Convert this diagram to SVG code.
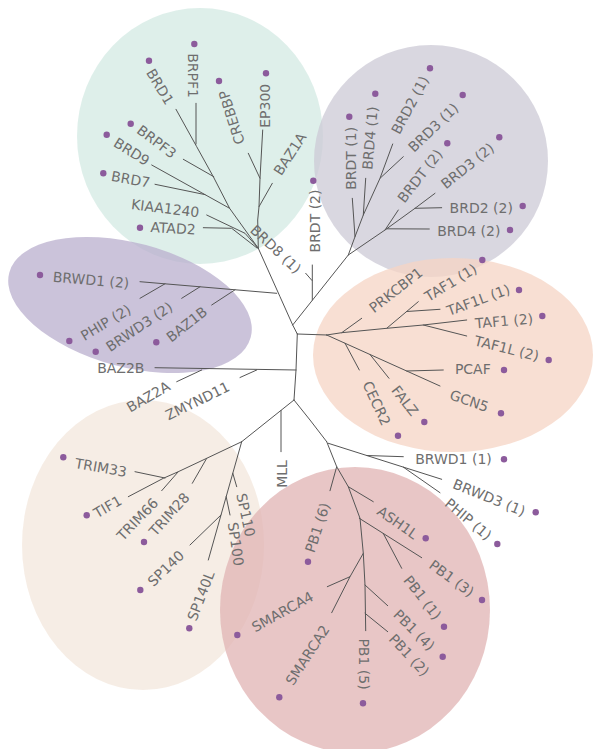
<svg xmlns="http://www.w3.org/2000/svg" width="595" height="749" viewBox="0 0 595 749">
<style>
.bg{stroke:none;opacity:0.75}
.ln{fill:none;stroke:#555;stroke-width:1;stroke-linejoin:round;stroke-linecap:round}
.dot{fill:#8c5b9c}
text{font-family:"DejaVu Sans","Liberation Sans",sans-serif;font-size:14px;fill:#6e6e6e;text-anchor:middle;dominant-baseline:central}
</style>
<rect width="595" height="749" fill="#ffffff"/>
<g id="backgrounds">
<ellipse class="bg" cx="200" cy="136" rx="123" ry="128" fill="#d3eae3"/>
<ellipse class="bg" cx="130" cy="305" rx="125" ry="62" transform="rotate(15 130 305)" fill="#baafce"/>
<ellipse class="bg" cx="431" cy="161" rx="117" ry="116" fill="#ccc9d6"/>
<ellipse class="bg" cx="453" cy="355" rx="140" ry="97" fill="#f6d4c4"/>
<ellipse class="bg" cx="143" cy="545" rx="121" ry="145" fill="#f3e7dc"/>
<ellipse class="bg" cx="355" cy="610" rx="135" ry="143" fill="#e0b3b3"/>
</g>
<g id="connectors" class="ln">
<polyline points="297.3,334 292.7,325 280,296.7 258.3,248.3"/>
<polyline points="292.7,325 348.3,255 385,230 415,208.3 435,193.3"/>
<line x1="312.3" y1="300" x2="312.3" y2="265"/>
<line x1="312" y1="280.5" x2="305.7" y2="273.3"/>
<line x1="297.3" y1="334" x2="326.7" y2="335"/>
<polyline points="297.3,334 296,370 294,400"/>
<line x1="296" y1="370" x2="155" y2="367.7"/>
<line x1="201.7" y1="370" x2="176.7" y2="381.7"/>
<line x1="256.7" y1="370" x2="240" y2="377.5"/>
<line x1="294" y1="400" x2="241.7" y2="441.7"/>
<line x1="281" y1="410.4" x2="281" y2="451.7"/>
<polyline points="294,400 310,420 326.7,441.7"/>
<!-- BRWD -->
<line x1="276.7" y1="293.3" x2="140" y2="281.7"/>
<line x1="140" y1="298.3" x2="165" y2="283.8"/>
<line x1="181.7" y1="298.3" x2="200" y2="286.8"/>
<line x1="211.7" y1="305" x2="235" y2="289.8"/>
<!-- teal -->
<polyline points="258.3,248.3 229.6,208.3 213.3,176.7 196.7,146.7 176,109.3"/>
<line x1="196" y1="103.3" x2="196" y2="144"/>
<line x1="183.3" y1="159.3" x2="213.8" y2="176.7"/>
<line x1="151.7" y1="165" x2="229.6" y2="208.3"/>
<line x1="155" y1="184.3" x2="205" y2="194.6"/>
<polyline points="206.7,215 245,233.3 258.3,248.3"/>
<polyline points="203.3,227.7 231.7,228.3 257,248"/>
<polyline points="262.7,130 260,178.3 259,206.7 257.7,220 258.3,248.3"/>
<line x1="248.3" y1="153.3" x2="260" y2="178.3"/>
<line x1="272.3" y1="183.3" x2="259" y2="206.7"/>
<!-- BET -->
<polyline points="348.3,255 355,236.7 363.3,215 380,178.3 392.7,144"/>
<line x1="352.3" y1="198.3" x2="355" y2="236.7"/>
<line x1="365.7" y1="178.3" x2="363.3" y2="215"/>
<line x1="403.3" y1="156.7" x2="380" y2="178.3"/>
<line x1="398.3" y1="210" x2="385" y2="230"/>
<line x1="441.7" y1="207.7" x2="415" y2="208.3"/>
<line x1="429.3" y1="229" x2="386.7" y2="228.8"/>
<!-- TAF -->
<polyline points="326.7,335 341.7,332.7 386.7,328.3 423.3,325 466.7,320"/>
<line x1="423.3" y1="325" x2="466.7" y2="336"/>
<line x1="341.7" y1="332.7" x2="361.7" y2="318.3"/>
<line x1="386.7" y1="328.3" x2="418.3" y2="301.7"/>
<line x1="406.7" y1="311.5" x2="440" y2="309.3"/>
<line x1="326.7" y1="335" x2="440" y2="386"/>
<line x1="406.7" y1="371" x2="443.3" y2="370"/>
<line x1="345" y1="343.2" x2="359.3" y2="370"/>
<line x1="370" y1="354.5" x2="389" y2="378.3"/>
<!-- TRIM / SP -->
<polyline points="241.7,441.7 206.7,458.3 178.3,471.7 163.3,478.3 128.3,496.7"/>
<line x1="135" y1="471.7" x2="165" y2="478"/>
<line x1="161.7" y1="490.7" x2="178.3" y2="471.7"/>
<line x1="192.3" y1="483.3" x2="206.7" y2="458.3"/>
<line x1="241.7" y1="441.7" x2="208.3" y2="560"/>
<line x1="236.7" y1="486.7" x2="232.8" y2="473.3"/>
<line x1="230" y1="515" x2="226.2" y2="496.7"/>
<line x1="190" y1="545" x2="221" y2="515"/>
<!-- PB1 -->
<polyline points="326.7,441.7 336.7,466.7 348.3,486.7 360,518.3 363.3,553.3 365,585 365.7,630.7"/>
<line x1="328.3" y1="443.3" x2="441.7" y2="479.3"/>
<line x1="366.7" y1="455.5" x2="403.3" y2="456.7"/>
<line x1="403.3" y1="467.1" x2="440" y2="492.7"/>
<line x1="330" y1="490.7" x2="336.7" y2="466.7"/>
<line x1="373.3" y1="501.7" x2="348.3" y2="486.7"/>
<line x1="359.3" y1="518.3" x2="421.7" y2="557.7"/>
<line x1="383.3" y1="533.5" x2="401.7" y2="568.3"/>
<polyline points="363.3,553.3 350,576.7 327.3,586.7"/>
<line x1="350" y1="576.7" x2="331.7" y2="612.7"/>
<line x1="365" y1="585" x2="387.7" y2="605.7"/>
<line x1="365" y1="613.3" x2="387.7" y2="631.7"/>
</g>
<g id="clade-teal">
<g id="n-BRD1"><circle class="dot" cx="149" cy="60.7" r="3.2"/><text transform="translate(160,86.7) rotate(59)">BRD1</text></g>
<g id="n-BRPF1"><circle class="dot" cx="194.3" cy="44" r="3.2"/><text transform="translate(193.3,75.5) rotate(90)">BRPF1</text></g>
<g id="n-BRPF3"><circle class="dot" cx="130.7" cy="123.7" r="3.2"/><text transform="translate(156.7,141.7) rotate(37)">BRPF3</text></g>
<g id="n-BRD9"><circle class="dot" cx="106.7" cy="134.7" r="3.2"/><text transform="translate(131.7,151.7) rotate(32)">BRD9</text></g>
<g id="n-BRD7"><circle class="dot" cx="103.3" cy="173.3" r="3.2"/><text transform="translate(130.7,179.3) rotate(10)">BRD7</text></g>
<g id="n-KIAA1240"><text transform="translate(165.3,208.3) rotate(7)">KIAA1240</text></g>
<g id="n-ATAD2"><circle class="dot" cx="140" cy="227.7" r="3.2"/><text transform="translate(173,228.3) rotate(3)">ATAD2</text></g>
<g id="n-CREBBP"><circle class="dot" cx="219" cy="81" r="3.2"/><text transform="translate(231.7,117.5) rotate(-108)">CREBBP</text></g>
<g id="n-EP300"><circle class="dot" cx="266" cy="73.3" r="3.2"/><text transform="translate(265,105.8) rotate(-90)">EP300</text></g>
<g id="n-BAZ1A"><text transform="translate(290,154) rotate(-57)">BAZ1A</text></g>
<g id="n-BRD8-1"><text transform="translate(275.8,249.2) rotate(43)">BRD8 (1)</text></g>
<g id="n-BRDT-2a"><circle class="dot" cx="313.3" cy="180.7" r="3.2"/><text transform="translate(315,221) rotate(-90)">BRDT (2)</text></g>
</g>
<g id="clade-bet">
<g id="n-BRDT-1"><circle class="dot" cx="349.3" cy="116.7" r="3.2"/><text transform="translate(350.7,158.3) rotate(-90)">BRDT (1)</text></g>
<g id="n-BRD4-1"><circle class="dot" cx="375.3" cy="93.7" r="3.2"/><text transform="translate(370,138) rotate(-85)">BRD4 (1)</text></g>
<g id="n-BRD2-1"><circle class="dot" cx="430" cy="68.3" r="3.2"/><text transform="translate(410,105) rotate(-62)">BRD2 (1)</text></g>
<g id="n-BRD3-1"><circle class="dot" cx="462.7" cy="95" r="3.2"/><text transform="translate(433.3,127.5) rotate(-44)">BRD3 (1)</text></g>
<g id="n-BRDT-2b"><circle class="dot" cx="447.3" cy="143.3" r="3.2"/><text transform="translate(420,175.8) rotate(-52)">BRDT (2)</text></g>
<g id="n-BRD3-2"><circle class="dot" cx="499.3" cy="137.3" r="3.2"/><text transform="translate(467.5,165.8) rotate(-39)">BRD3 (2)</text></g>
<g id="n-BRD2-2"><circle class="dot" cx="522.7" cy="206" r="3.2"/><text transform="translate(481.2,207.5)">BRD2 (2)</text></g>
<g id="n-BRD4-2"><circle class="dot" cx="510" cy="230" r="3.2"/><text transform="translate(468.8,230.5)">BRD4 (2)</text></g>
</g>
<g id="clade-taf">
<g id="n-PRKCBP1"><text transform="translate(395.8,290) rotate(-38)">PRKCBP1</text></g>
<g id="n-TAF1-1"><circle class="dot" cx="482.3" cy="260" r="3.2"/><text transform="translate(450.8,282.5) rotate(-31.5)">TAF1 (1)</text></g>
<g id="n-TAF1L-1"><circle class="dot" cx="519" cy="290" r="3.2"/><text transform="translate(478.3,300) rotate(-20)">TAF1L (1)</text></g>
<g id="n-TAF1-2"><circle class="dot" cx="542.3" cy="316" r="3.2"/><text transform="translate(504,321) rotate(-5)">TAF1 (2)</text></g>
<g id="n-TAF1L-2"><circle class="dot" cx="548.7" cy="360" r="3.2"/><text transform="translate(506.7,348.3) rotate(14)">TAF1L (2)</text></g>
<g id="n-PCAF"><circle class="dot" cx="504" cy="370" r="3.2"/><text transform="translate(472.8,369)">PCAF</text></g>
<g id="n-GCN5"><circle class="dot" cx="501" cy="413.3" r="3.2"/><text transform="translate(469.2,400.8) rotate(19)">GCN5</text></g>
<g id="n-FALZ"><circle class="dot" cx="424.3" cy="422" r="3.2"/><text transform="translate(405,400.8) rotate(52)">FALZ</text></g>
<g id="n-CECR2"><circle class="dot" cx="398" cy="435.7" r="3.2"/><text transform="translate(376.7,403.3) rotate(65)">CECR2</text></g>
</g>
<g id="clade-brwd">
<g id="n-BRWD1-2"><circle class="dot" cx="40" cy="275" r="3.2"/><text transform="translate(91,280) rotate(5)">BRWD1 (2)</text></g>
<g id="n-PHIP-2"><circle class="dot" cx="69.3" cy="341" r="3.2"/><text transform="translate(105.8,322.5) rotate(-31)">PHIP (2)</text></g>
<g id="n-BRWD3-2"><circle class="dot" cx="95.7" cy="351.7" r="3.2"/><text transform="translate(139.2,326.7) rotate(-34)">BRWD3 (2)</text></g>
<g id="n-BAZ1B"><circle class="dot" cx="156.3" cy="342.3" r="3.2"/><text transform="translate(186.7,324.2) rotate(-38)">BAZ1B</text></g>
<g id="n-BAZ2B"><text transform="translate(120.8,368)">BAZ2B</text></g>
<g id="n-BAZ2A"><text transform="translate(148.3,396.7) rotate(-30)">BAZ2A</text></g>
<g id="n-ZMYND11"><text transform="translate(197.5,400.8) rotate(-26)">ZMYND11</text></g>
</g>
<g id="clade-trim">
<g id="n-TRIM33"><circle class="dot" cx="63.3" cy="457.3" r="3.2"/><text transform="translate(100.8,467.5) rotate(10)">TRIM33</text></g>
<g id="n-TIF1"><circle class="dot" cx="86.7" cy="515.3" r="3.2"/><text transform="translate(107.5,506.7) rotate(-30)">TIF1</text></g>
<g id="n-TRIM66"><text transform="translate(137.5,519.2) rotate(-46)">TRIM66</text></g>
<g id="n-TRIM28"><circle class="dot" cx="144" cy="542" r="3.2"/><text transform="translate(169.2,514.2) rotate(-48)">TRIM28</text></g>
<g id="n-SP140"><circle class="dot" cx="140.3" cy="590" r="3.2"/><text transform="translate(165.8,568.3) rotate(-44)">SP140</text></g>
<g id="n-SP140L"><circle class="dot" cx="189.3" cy="628.3" r="3.2"/><text transform="translate(200.8,595.8) rotate(-69)">SP140L</text></g>
<g id="n-SP110"><text transform="translate(245.8,515) rotate(78)">SP110</text></g>
<g id="n-SP100"><text transform="translate(235.8,544) rotate(82)">SP100</text></g>
<g id="n-MLL"><text transform="translate(282,474) rotate(-90)">MLL</text></g>
</g>
<g id="clade-pb1">
<g id="n-BRWD1-1"><circle class="dot" cx="504" cy="459.3" r="3.2"/><text transform="translate(453.5,458.5)">BRWD1 (1)</text></g>
<g id="n-BRWD3-1"><circle class="dot" cx="535.7" cy="512.3" r="3.2"/><text transform="translate(489.2,497.5) rotate(22)">BRWD3 (1)</text></g>
<g id="n-PHIP-1"><circle class="dot" cx="497.3" cy="544" r="3.2"/><text transform="translate(468.3,519.2) rotate(40)">PHIP (1)</text></g>
<g id="n-ASH1L"><circle class="dot" cx="425.7" cy="538.3" r="3.2"/><text transform="translate(397.5,522.5) rotate(35)">ASH1L</text></g>
<g id="n-PB1-3"><circle class="dot" cx="482" cy="600" r="3.2"/><text transform="translate(451.7,578.3) rotate(36)">PB1 (3)</text></g>
<g id="n-PB1-1"><circle class="dot" cx="444" cy="626.7" r="3.2"/><text transform="translate(422.5,597.5) rotate(52)">PB1 (1)</text></g>
<g id="n-PB1-4"><circle class="dot" cx="442.7" cy="656.7" r="3.2"/><text transform="translate(414.2,630) rotate(45)">PB1 (4)</text></g>
<g id="n-PB1-2"><text transform="translate(409.2,655) rotate(47)">PB1 (2)</text></g>
<g id="n-PB1-5"><circle class="dot" cx="363" cy="703.3" r="3.2"/><text transform="translate(364,664) rotate(90)">PB1 (5)</text></g>
<g id="n-SMARCA2"><circle class="dot" cx="279.3" cy="697.3" r="3.2"/><text transform="translate(307.5,655) rotate(-57)">SMARCA2</text></g>
<g id="n-SMARCA4"><circle class="dot" cx="237.3" cy="635" r="3.2"/><text transform="translate(282.5,611.7) rotate(-29)">SMARCA4</text></g>
<g id="n-PB1-6"><circle class="dot" cx="308" cy="561.7" r="3.2"/><text transform="translate(317.5,527.5) rotate(-72)">PB1 (6)</text></g>
</g>
</svg>
